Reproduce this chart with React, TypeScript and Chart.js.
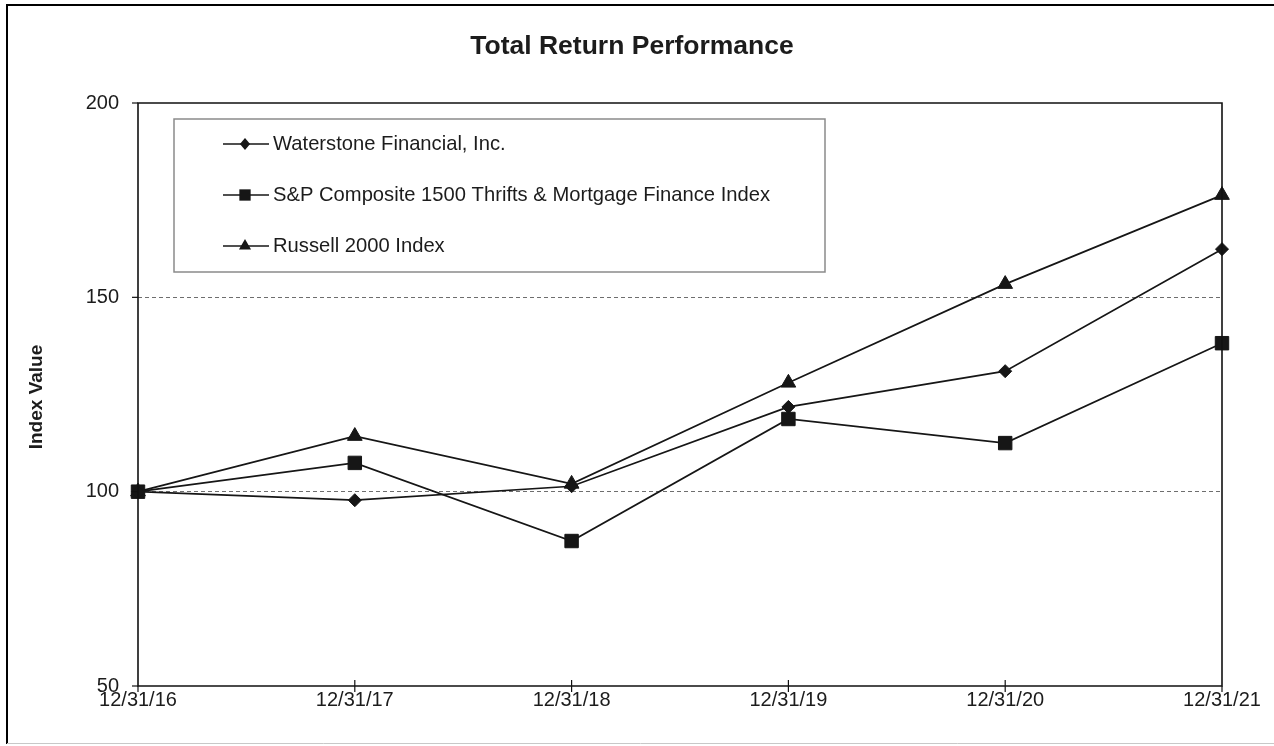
import React, { useEffect, useRef } from "react";
import { Chart, registerables } from "chart.js";

Chart.register(...registerables);

const categories = ["12/31/16", "12/31/17", "12/31/18", "12/31/19", "12/31/20", "12/31/21"];
const waterstone = [100, 97.8, 101.4, 121.8, 131.0, 162.4];
const spComposite = [100, 107.4, 87.3, 118.7, 112.5, 138.2];
const russell = [100, 114.3, 102.0, 128.0, 153.4, 176.3];
const seriesNames = [
  "Waterstone Financial, Inc.",
  "S&P Composite 1500 Thrifts & Mortgage Finance Index",
  "Russell 2000 Index",
];
const yTicks = [50, 100, 150, 200];
const titleText = "Total Return Performance";
const yTitleText = "Index Value";

const FONT = "'Liberation Sans', Arial, sans-serif";
const TEXT = "#1c1c1c";
const LINE = "#161616";

const framePlugin = {
  id: "framePlugin",
  afterDatasetsDraw(chart: any) {
    const ctx = chart.ctx;
    const { left, right, top, bottom } = chart.chartArea;
    const xs = chart.scales.x;
    ctx.save();
    ctx.strokeStyle = "#111";
    ctx.lineWidth = 1.6;
    ctx.beginPath();
    ctx.rect(left, top, right - left, bottom - top);
    ctx.stroke();
    const ys = chart.scales.y;
    ctx.lineWidth = 1.2;
    yTicks.forEach((v) => {
      const py = ys.getPixelForValue(v);
      ctx.beginPath();
      ctx.moveTo(left - 6, py);
      ctx.lineTo(left, py);
      ctx.stroke();
    });
    categories.forEach((_, i) => {
      const px = xs.getPixelForValue(i);
      const inner = i === 0 || i === categories.length - 1 ? 0 : 6;
      ctx.beginPath();
      ctx.moveTo(px, bottom - inner);
      ctx.lineTo(px, bottom + 6);
      ctx.stroke();
    });
    ctx.restore();
  },
  afterDraw(chart: any) {
    const ctx = chart.ctx;
    const W = chart.width;
    const H = chart.height;
    ctx.save();
    ctx.strokeStyle = "#000";
    ctx.lineWidth = 2;
    ctx.beginPath();
    ctx.moveTo(7, H - 2);
    ctx.lineTo(7, 5);
    ctx.lineTo(W, 5);
    ctx.stroke();
    ctx.strokeStyle = "#c8c8c8";
    ctx.lineWidth = 1;
    ctx.beginPath();
    ctx.moveTo(7, H - 2.5);
    ctx.lineTo(W, H - 2.5);
    ctx.stroke();

    ctx.fillStyle = TEXT;
    ctx.font = `bold 26.5px ${FONT}`;
    ctx.textAlign = "center";
    ctx.textBaseline = "middle";
    ctx.fillText(titleText, 632, 47);

    ctx.save();
    ctx.translate(37, 397);
    ctx.rotate(-Math.PI / 2);
    ctx.font = `bold 19px ${FONT}`;
    ctx.fillText(yTitleText, 0, 0);
    ctx.restore();

    const lx = 174, ly = 119, lw = 651, lh = 153;
    ctx.fillStyle = "#fff";
    ctx.fillRect(lx, ly, lw, lh);
    ctx.strokeStyle = "#8a8a8a";
    ctx.lineWidth = 1.5;
    ctx.strokeRect(lx, ly, lw, lh);
    const rows = [144, 195, 246];
    const legendRadius = [6, 8, 7];
    chart.data.datasets.forEach((ds: any, i: number) => {
      const cy = rows[i];
      ctx.strokeStyle = LINE;
      ctx.lineWidth = 1.6;
      ctx.beginPath();
      ctx.moveTo(223, cy);
      ctx.lineTo(269, cy);
      ctx.stroke();
      ctx.fillStyle = LINE;
      ctx.beginPath();
      const r = legendRadius[i];
      const cx = 245;
      if (ds.pointStyle === "rectRot") {
        ctx.moveTo(cx - r * 0.85, cy);
        ctx.lineTo(cx, cy - r);
        ctx.lineTo(cx + r * 0.85, cy);
        ctx.lineTo(cx, cy + r);
        ctx.closePath();
      } else if (ds.pointStyle === "rect") {
        const s = r * Math.SQRT1_2;
        ctx.rect(cx - s, cy - s, 2 * s, 2 * s);
      } else {
        ctx.moveTo(cx, cy - r);
        ctx.lineTo(cx + r * Math.sin((2 * Math.PI) / 3), cy - r * Math.cos((2 * Math.PI) / 3));
        ctx.lineTo(cx + r * Math.sin((4 * Math.PI) / 3), cy - r * Math.cos((4 * Math.PI) / 3));
        ctx.closePath();
      }
      ctx.fill();
      ctx.fillStyle = TEXT;
      ctx.font = `20.2px ${FONT}`;
      ctx.textAlign = "left";
      ctx.textBaseline = "middle";
      ctx.fillText(ds.label, 273, cy);
    });
    ctx.restore();
  },
};

export default function App() {
  const canvasRef = useRef<HTMLCanvasElement | null>(null);

  useEffect(() => {
    const canvas = canvasRef.current;
    if (!canvas) return;
    const ds = (label: string, data: number[], style: string, radius: number) => ({
      label,
      data,
      borderColor: LINE,
      backgroundColor: LINE,
      borderWidth: 1.7,
      pointStyle: style,
      pointRadius: radius,
      pointHoverRadius: radius,
      pointBorderWidth: 1,
      pointBackgroundColor: LINE,
      pointBorderColor: LINE,
      tension: 0,
      fill: false,
    });
    const chart = new Chart(canvas, {
      type: "line",
      data: {
        labels: categories,
        datasets: [
          ds(seriesNames[0], waterstone, "rectRot", 6.5),
          ds(seriesNames[1], spComposite, "rect", 9.5),
          ds(seriesNames[2], russell, "triangle", 8.5),
        ],
      },
      options: {
        animation: false,
        responsive: false,
        maintainAspectRatio: false,
        layout: { padding: { left: 0, top: 103, right: 52, bottom: 0 } },
        plugins: {
          legend: { display: false },
          title: { display: false },
          tooltip: { enabled: false },
        },
        scales: {
          x: {
            type: "category",
            offset: false,
            grid: { display: false, drawTicks: false },
            border: { display: false },
            ticks: {
              padding: 2,
              color: TEXT,
              font: { family: FONT, size: 20 },
              maxRotation: 0,
              autoSkip: false,
            },
            afterFit: (scale: any) => {
              scale.height = 60;
            },
          },
          y: {
            type: "linear",
            min: 50,
            max: 200,
            grid: {
              drawTicks: false,
              color: (c: any) => (c.tick && (c.tick.value === 100 || c.tick.value === 150) ? "#6e6e6e" : "rgba(0,0,0,0)"),
              lineWidth: 1,
            },
            border: { display: false, dash: [4, 3] },
            ticks: {
              stepSize: 50,
              padding: 19,
              color: TEXT,
              font: { family: FONT, size: 20 },
            },
            afterFit: (scale: any) => {
              scale.width = 138;
            },
          },
        },
      } as any,
      plugins: [framePlugin],
    });
    return () => chart.destroy();
  }, []);

  return (
    <div style={{ position: "fixed", left: 0, top: 0, width: 1274, height: 746, background: "#fff" }}>
      <canvas ref={canvasRef} width={1274} height={746} style={{ display: "block", width: 1274, height: 746 }} />
    </div>
  );
}
